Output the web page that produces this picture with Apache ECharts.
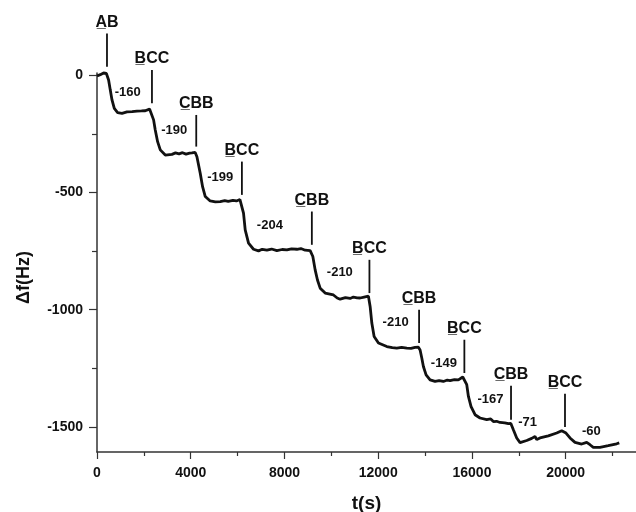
<!DOCTYPE html>
<html>
<head>
<meta charset="utf-8">
<script src="https://cdn.jsdelivr.net/npm/echarts@6/dist/echarts.min.js"></script>
<style>
  html, body { margin: 0; padding: 0; background: #fff; }
  #chart { width: 636px; height: 512px; }
</style>
</head>
<body>
<div id="chart"></div>
<script>
// frequency shift trace, [t (s), delta f (Hz)]
var trace = [
  [0, -3], [140, 3], [280, 10], [400, 8], [495, -20], [567, -63], [640, -105], [738, -141], [880, -159], [1066, -162],
  [1280, -156], [1500, -155], [1706, -153], [1900, -152], [2060, -151], [2243, -144], [2316, -148],
  [2415, -190], [2486, -233], [2586, -283], [2700, -318], [2913, -340], [3198, -337], [3350, -331], [3500, -335],
  [3650, -330], [3800, -336], [3950, -332], [4050, -331], [4190, -329],
  [4264, -347], [4405, -418], [4505, -475], [4620, -517], [4830, -536], [5050, -540], [5260, -539], [5450, -535],
  [5600, -538], [5800, -533], [5950, -536], [6100, -530], [6183, -530],
  [6252, -588], [6324, -659], [6466, -716], [6679, -742], [6892, -749], [7050, -742], [7249, -746], [7450, -741],
  [7676, -748], [7900, -743], [8102, -745], [8300, -740], [8529, -742], [8700, -739], [8883, -746], [9096, -748],
  [9210, -773], [9309, -830], [9408, -873], [9523, -908], [9736, -929], [10090, -937], [10250, -950], [10375, -955],
  [10600, -948], [10800, -952], [10943, -946], [11100, -949], [11230, -950], [11400, -946], [11582, -942],
  [11655, -986], [11727, -1057], [11825, -1114], [12010, -1142], [12367, -1157], [12600, -1162], [12793, -1164],
  [13000, -1161], [13220, -1164], [13400, -1165], [13574, -1161], [13715, -1160],
  [13787, -1172], [13859, -1206], [13928, -1242], [14043, -1278], [14213, -1299], [14426, -1306], [14600, -1302],
  [14780, -1306], [14950, -1300], [15066, -1302], [15250, -1298], [15420, -1299], [15608, -1287], [15690, -1283],
  [15778, -1320], [15849, -1370], [15962, -1413], [16132, -1448], [16345, -1462], [16631, -1469], [16800, -1466],
  [16915, -1477], [17050, -1476], [17198, -1481], [17400, -1483], [17553, -1486], [17660, -1485],
  [17767, -1512], [17910, -1547], [18052, -1567], [18337, -1558], [18550, -1549], [18691, -1541], [18763, -1554],
  [18904, -1547], [19258, -1538], [19616, -1526], [19829, -1516], [19900, -1509],
  [20013, -1526], [20184, -1547], [20397, -1566], [20683, -1573], [20896, -1566], [21036, -1576], [21178, -1587],
  [21463, -1587], [21817, -1580], [22175, -1572], [22286, -1568]
];

// injections: time, label, marker line bottom/top (Hz)
var injT      = [426, 2345, 4235, 6183, 9168, 11625, 13744, 15676, 17667, 19970];
var injLabel  = ['A\u0332B', 'B\u0332CC', 'C\u0332BB', 'B\u0332CC', 'C\u0332BB', 'B\u0332CC', 'C\u0332BB', 'B\u0332CC', 'C\u0332BB', 'B\u0332CC'];
var injBottom = [37, -119, -304, -510, -723, -929, -1142, -1270, -1469, -1500];
var injTop    = [179, 23, -169, -368, -581, -787, -1000, -1128, -1324, -1358];

// step sizes written next to each step
var stepT    = [1313, 3296, 5258, 7377, 10362, 12742, 14802, 16793, 18371, 21092];
var stepF    = [-71, -236, -436, -639, -841, -1055, -1228, -1384, -1481, -1519];
var stepText = ['-160', '-190', '-199', '-204', '-210', '-210', '-149', '-167', '-71', '-60'];

var xMajor = [0, 4000, 8000, 12000, 16000, 20000];
var xMinor = [2000, 6000, 10000, 14000, 18000, 22000];
var yMajor = [0, -500, -1000, -1500];
var yMinor = [-250, -750, -1250];

var font = 'Liberation Sans, Arial, sans-serif';
var ink = '#111';

function plain(v) { return String(v); }

var injData = injT.map(function (t, i) { return [t, injBottom[i], injTop[i], i]; });
var stepData = stepT.map(function (t, i) { return [t, stepF[i], i]; });

function renderInjection(params, api) {
  var bottom = api.coord([api.value(0), api.value(1)]);
  var top = api.coord([api.value(0), api.value(2)]);
  return {
    type: 'group',
    children: [{
      type: 'line',
      shape: { x1: bottom[0], y1: bottom[1], x2: top[0], y2: top[1] },
      style: { stroke: ink, lineWidth: 1.8 }
    }, {
      type: 'text',
      x: top[0],
      y: top[1] - 3,
      style: {
        text: injLabel[api.value(3)],
        fill: ink,
        font: 'bold 16px ' + font,
        align: 'center',
        verticalAlign: 'bottom'
      }
    }]
  };
}

function renderStep(params, api) {
  var p = api.coord([api.value(0), api.value(1)]);
  return {
    type: 'text',
    x: p[0],
    y: p[1],
    style: {
      text: stepText[api.value(2)],
      fill: ink,
      font: 'bold 13px ' + font,
      align: 'center',
      verticalAlign: 'middle'
    }
  };
}

const myChart = echarts.init(document.getElementById('chart'));

let option = {
  animation: false,
  backgroundColor: '#fff',
  grid: { left: 97, right: 0, top: 73, bottom: 60, containLabel: false, outerBoundsMode: 'none' },
  xAxis: [{
    type: 'value',
    min: 0,
    max: 23000,
    name: 't(s)',
    nameLocation: 'middle',
    nameGap: 42,
    nameTextStyle: { fontFamily: font, fontWeight: 'bold', fontSize: 19, color: ink },
    axisLine: { onZero: false, lineStyle: { color: '#333', width: 1.5 } },
    axisTick: { show: true, customValues: xMajor, length: 7, lineStyle: { color: '#333', width: 1.2 } },
    axisLabel: { customValues: xMajor, formatter: plain, margin: 14, fontFamily: font, fontWeight: 'bold', fontSize: 14, color: ink },
    splitLine: { show: false }
  }, {
    type: 'value',
    position: 'bottom',
    min: 0,
    max: 23000,
    axisLine: { show: false, onZero: false },
    axisTick: { show: true, customValues: xMinor, length: 4, lineStyle: { color: '#333', width: 1.2 } },
    axisLabel: { show: false },
    splitLine: { show: false }
  }],
  yAxis: [{
    type: 'value',
    min: -1607,
    max: 10,
    name: '\u0394f(Hz)',
    nameLocation: 'middle',
    nameGap: 64,
    nameTextStyle: { fontFamily: font, fontWeight: 'bold', fontSize: 18, color: ink, padding: [0, 30, 0, 0] },
    axisLine: { show: true, onZero: false, lineStyle: { color: '#333', width: 1.5 } },
    axisTick: { show: true, customValues: yMajor, length: 8, lineStyle: { color: '#333', width: 1.2 } },
    axisLabel: { customValues: yMajor, formatter: plain, margin: 14, fontFamily: font, fontWeight: 'bold', fontSize: 14, color: ink },
    splitLine: { show: false }
  }, {
    type: 'value',
    position: 'left',
    min: -1607,
    max: 10,
    axisLine: { show: false, onZero: false },
    axisTick: { show: true, customValues: yMinor, length: 5, lineStyle: { color: '#333', width: 1.2 } },
    axisLabel: { show: false },
    splitLine: { show: false }
  }],
  series: [{
    type: 'line',
    data: trace,
    showSymbol: false,
    clip: false,
    lineStyle: { color: '#111', width: 2.8 }
  }, {
    type: 'custom',
    data: injData,
    clip: false,
    silent: true,
    renderItem: renderInjection
  }, {
    type: 'custom',
    data: stepData,
    clip: false,
    silent: true,
    renderItem: renderStep
  }]
};

myChart.setOption(option);
</script>
</body>
</html>
